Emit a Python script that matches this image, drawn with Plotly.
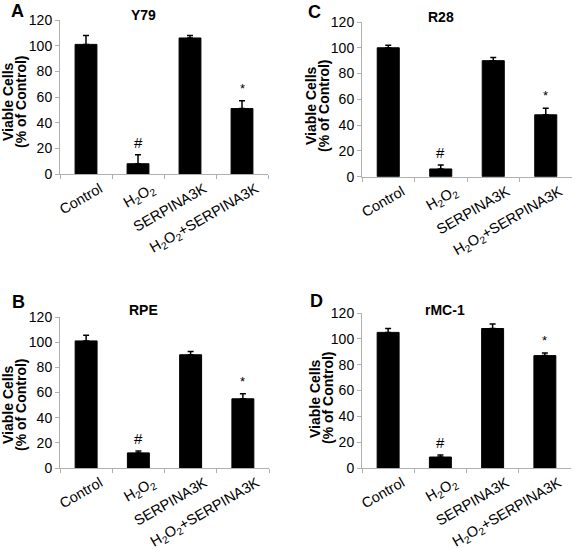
import plotly.graph_objects as go

categories = ["Control", "H<sub>2</sub>O<sub>2</sub>", "SERPINA3K", "H<sub>2</sub>O<sub>2</sub>+SERPINA3K"]
marks = ["", "#", "", "*"]

y79_vals = [101, 8, 106, 51]
y79_err = [7, 7, 2, 6]
r28_vals = [100, 6, 90, 48]
r28_err = [2, 3, 2.5, 5]
rpe_vals = [101, 12, 90, 55]
rpe_err = [4.5, 1.5, 2.5, 4]
rmc1_vals = [105, 8.5, 108, 87]
rmc1_err = [3, 1.5, 3.5, 2]

W, H = 577, 549
FONT = "Liberation Sans, Arial, sans-serif"

panels = [
    dict(letter="A", title="Y79", vals=y79_vals, err=y79_err, x0=60, x1=268, yt=20, yb=174,
         tpos=(143, 15), lpos=(17, 11), ylab=(8, 21, 102)),
    dict(letter="C", title="R28", vals=r28_vals, err=r28_err, x0=362, x1=572, yt=22, yb=176.7,
         tpos=(441, 17), lpos=(315, 12), ylab=(311, 324, 106)),
    dict(letter="B", title="RPE", vals=rpe_vals, err=rpe_err, x0=60, x1=269, yt=317, yb=468,
         tpos=(143, 310), lpos=(18, 302), ylab=(8, 21, 405)),
    dict(letter="D", title="rMC-1", vals=rmc1_vals, err=rmc1_err, x0=362, x1=571, yt=313, yb=468,
         tpos=(445, 310), lpos=(316, 301), ylab=(315, 328, 398)),
]

fig = go.Figure()
annotations = []
layout = {}
for i, p in enumerate(panels):
    n = "" if i == 0 else str(i + 1)
    xa, ya = "x" + n, "y" + n
    fig.add_trace(go.Bar(
        x=categories, y=p["vals"], xaxis=xa, yaxis=ya,
        marker=dict(color="black", line=dict(color="black", width=1)),
        error_y=dict(type="data", array=p["err"], symmetric=False,
                     arrayminus=[0] * len(p["err"]), color="black", thickness=1.5, width=3),
        showlegend=False,
    ))
    layout["xaxis" + n] = dict(
        domain=[p["x0"] / W, p["x1"] / W], anchor=ya, type="category", automargin=False,
        range=[-0.5, 3.5], showline=True, linecolor="#b0b0b0", linewidth=1,
        ticks="outside", tickson="boundaries", ticklen=4, tickcolor="#b0b0b0",
        tickangle=-30, ticklabelshift=14, ticklabelstandoff=0,
        tickfont=dict(family=FONT, size=14.5, color="black"),
        showgrid=False, zeroline=False, fixedrange=True,
    )
    layout["yaxis" + n] = dict(
        domain=[1 - p["yb"] / H, 1 - p["yt"] / H], anchor=xa, automargin=False,
        range=[0, 120], tickvals=[0, 20, 40, 60, 80, 100, 120],
        showline=True, linecolor="#b0b0b0", linewidth=1,
        ticks="outside", ticklen=4, tickcolor="#b0b0b0",
        tickfont=dict(family=FONT, size=14, color="black"),
        showgrid=False, zeroline=False, fixedrange=True,
    )
    for c, v, e, m in zip(categories, p["vals"], p["err"], marks):
        if m:
            annotations.append(dict(
                x=c, y=v + e, xref=xa, yref=ya, text=m, showarrow=False,
                yanchor="bottom", yshift=2 if m == "#" else 3,
                font=dict(family=FONT, size=15 if m == "#" else 13, color="black"),
            ))
    annotations.append(dict(
        x=p["tpos"][0] / W, y=1 - p["tpos"][1] / H, xref="paper", yref="paper",
        text="<b>%s</b>" % p["title"], showarrow=False, xanchor="center", yanchor="middle",
        font=dict(family=FONT, size=14, color="black"),
    ))
    annotations.append(dict(
        x=p["lpos"][0] / W, y=1 - p["lpos"][1] / H, xref="paper", yref="paper",
        text="<b>%s</b>" % p["letter"], showarrow=False, xanchor="center", yanchor="middle",
        font=dict(family=FONT, size=18, color="black"),
    ))
    for txt, xp in (("Viable Cells", p["ylab"][0]), ("(% of Control)", p["ylab"][1])):
        annotations.append(dict(
            x=xp / W, y=1 - p["ylab"][2] / H, xref="paper", yref="paper",
            text="<b>%s</b>" % txt, showarrow=False, textangle=-90,
            xanchor="center", yanchor="middle",
            font=dict(family=FONT, size=14, color="black"),
        ))

fig.update_layout(
    template="none",
    width=W, height=H,
    margin=dict(l=0, r=0, t=0, b=0, autoexpand=False),
    paper_bgcolor="white", plot_bgcolor="white",
    bargap=0.58,
    annotations=annotations,
    **layout,
)

fig.write_html(
    "out.html",
    config={"displayModeBar": False, "staticPlot": True},
    post_script="document.body.style.margin='0';document.body.style.overflow='hidden';",
)
